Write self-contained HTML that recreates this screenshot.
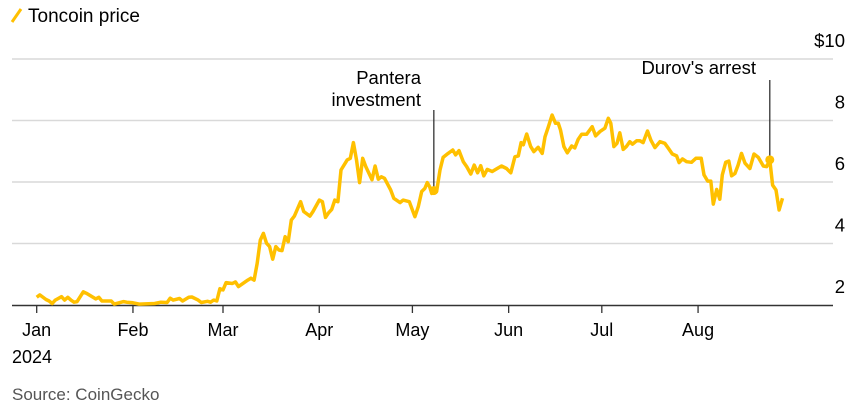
<!DOCTYPE html>
<html><head><meta charset="utf-8">
<style>
body{margin:0;background:#fff;}
svg{display:block;font-family:"Liberation Sans",Arial,sans-serif;}
</style></head>
<body>
<svg id="chart" width="861" height="417" viewBox="0 0 861 417">
  <g>
    <line x1="12" y1="22" x2="21" y2="9" stroke="#ffc000" stroke-width="3"/>
    <text x="28" y="22" font-size="19" fill="#000">Toncoin price</text>
  </g>
  <g id="grid"></g>
  <g id="yticks"></g>
  <g id="xaxis"></g>
  <g id="annotations"></g>
  <path id="line" fill="none" stroke="#ffc000" stroke-width="3.5" stroke-linejoin="round"/>
  <g id="dots"></g>
  <text x="12" y="400" font-size="17" fill="#555">Source: CoinGecko</text>
</svg>
<script>
const days = [0,1,3,4,5,6,8,9,10,11,12,13,15,16,19,20,21,24,25,28,29,31,33,38,40,42,43,44,46,47,49,50,52,53,55,56,57,58,59,60,61,63,64,65,68,69,70,71,72,73,74,75,76,77,78,79,80,81,82,83,85,86,88,89,91,92,93,94,95,96,97,98,100,101,102,103,104,105,106,108,109,110,111,112,114,115,117,118,120,121.8,122.9,124,125,125.8,126.6,127.2,127.9,128.8,129.9,130.9,132.5,134,134.9,136,137.4,138.5,139.8,140.9,142,143,144,145.1,146.7,148.3,149.7,151.3,152.7,154,155.1,156,156.7,157.8,159.1,160.1,161.5,162.8,163.7,164.8,166,167.1,168,168.7,169.8,170.9,172.3,173.3,174.4,175.5,177.1,178.9,180,181.4,183,184.1,184.9,185.9,186.9,187.8,188.9,189.9,191,191.9,193.2,194.3,195.3,196.7,197.8,199.1,200.7,202.3,203.4,204.7,206.1,206.9,208,209.3,210.9,212.3,214,214.9,216.1,217.1,217.9,219,220,220.8,221.9,222.9,223.8,224.9,225.9,227,228.1,229.7,231,232.4,234,235.1,236.1,237,238.1,239.1,240.2];
const prices = [2.25,2.33,2.18,2.13,2.05,2.16,2.27,2.16,2.25,2.16,2.09,2.11,2.43,2.38,2.20,2.25,2.13,2.13,2.03,2.11,2.09,2.07,2.03,2.05,2.09,2.08,2.22,2.16,2.21,2.13,2.25,2.26,2.16,2.08,2.12,2.09,2.16,2.13,2.53,2.49,2.73,2.70,2.75,2.60,2.81,2.87,2.81,3.36,4.11,4.33,4.01,3.90,3.49,3.90,3.79,3.77,4.22,4.06,4.76,4.89,5.36,5.04,4.89,5.04,5.41,5.36,4.85,5.00,5.11,5.41,5.36,6.39,6.72,6.77,7.28,6.72,5.98,6.77,6.50,6.07,6.52,6.09,6.17,6.12,5.74,5.47,5.33,5.41,5.36,4.87,5.20,5.69,5.79,5.98,5.83,5.63,5.72,5.69,6.39,6.80,6.93,7.04,6.88,7.02,6.66,6.50,6.26,6.55,6.30,6.53,6.20,6.41,6.34,6.44,6.52,6.44,6.30,6.82,6.85,7.28,7.21,7.56,7.15,6.99,7.13,6.93,7.47,7.80,8.18,7.91,7.91,7.69,7.15,6.95,7.17,7.11,7.39,7.55,7.55,7.80,7.50,7.64,7.75,8.07,7.91,7.15,7.26,7.60,7.06,7.15,7.31,7.23,7.34,7.34,7.28,7.66,7.36,7.12,7.31,7.26,7.10,6.91,6.85,6.63,6.75,6.66,6.64,6.77,6.77,6.23,6.03,6.03,5.28,5.76,5.44,6.23,6.64,6.68,6.20,6.28,6.55,6.93,6.61,6.44,6.91,6.80,6.52,6.50,6.72,5.90,5.74,5.09,5.47];
const yTicks = [2,4,6,8,10];
const yTickLabels = ["2","4","6","8","$10"];
const monthDays = [0,31,60,91,121,152,182,213];
const monthLabels = ["Jan","Feb","Mar","Apr","May","Jun","Jul","Aug"];
const annDays = [127.9,236.1];
const annPrices = [5.72,6.72];

const NS="http://www.w3.org/2000/svg";
const xS=d=>36.7+d*3.105;
const yS=v=>305-(v-2)*30.75;
function mk(tag,attrs,parent,text){const e=document.createElementNS(NS,tag);for(const k in attrs)e.setAttribute(k,attrs[k]);if(text!==undefined)e.textContent=text;parent.appendChild(e);return e;}
const grid=document.getElementById('grid'),yt=document.getElementById('yticks'),xa=document.getElementById('xaxis'),an=document.getElementById('annotations'),dots=document.getElementById('dots');
yTicks.forEach((v,i)=>{
  if(v>2){const l=mk('line',{x1:12,x2:833,y1:yS(v),y2:yS(v),stroke:'#d9d9d9','stroke-width':1.5},grid);
  
  }
  const t=mk('text',{x:845,y:yS(v)-12,'font-size':18.5,'text-anchor':'end',fill:'#000'},yt,yTickLabels[i]);
  
  
});
const base=mk('line',{x1:12,x2:833,y1:305.5,y2:305.5,stroke:'#333','stroke-width':1.5},xa);


monthDays.forEach((d,i)=>{
  const tk=mk('line',{x1:xS(d),x2:xS(d),y1:305,y2:313,stroke:'#333','stroke-width':1.3},xa);
  
  
  const t=mk('text',{x:xS(d),y:336,'font-size':18,'text-anchor':'middle',fill:'#000'},xa,monthLabels[i]);
  
  
});
const yr=mk('text',{x:12,y:363,'font-size':18,fill:'#000'},xa,'2024');


let dstr='';days.forEach((d,i)=>{dstr+=(i?'L':'M')+xS(d).toFixed(1)+' '+yS(prices[i]).toFixed(1);});
document.getElementById('line').setAttribute('d',dstr);
const a1x=xS(annDays[0]),a2x=xS(annDays[1]);
mk('line',{x1:a1x,x2:a1x,y1:110,y2:yS(annPrices[0]),stroke:'#333','stroke-width':1.3},an);
const p1=mk('text',{x:421,y:84,'font-size':18.5,'text-anchor':'end'},an,'Pantera');


const p2=mk('text',{x:421,y:106,'font-size':18.5,'text-anchor':'end'},an,'investment');


mk('line',{x1:a2x,x2:a2x,y1:80,y2:yS(annPrices[1]),stroke:'#333','stroke-width':1.3},an);
const d1=mk('text',{x:756,y:74,'font-size':18.5,'text-anchor':'end'},an,"Durov's arrest");


annDays.forEach((d,i)=>{
  const c=mk('circle',{cx:xS(d),cy:yS(annPrices[i]),r:4.5,fill:'#ffc000'},dots);
  
  
});
</script>
</body></html>
